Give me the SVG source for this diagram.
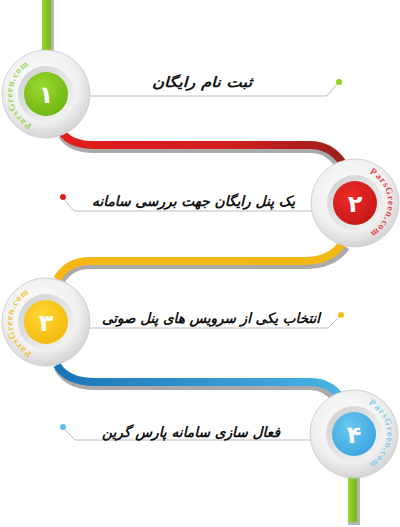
<svg xmlns="http://www.w3.org/2000/svg" width="400" height="527" viewBox="0 0 400 527">
<style>
.lbl{font-family:"DejaVu Sans",sans-serif;font-weight:bold;font-style:italic;font-size:14px;fill:#111;text-anchor:end}
.num{font-family:"DejaVu Sans",sans-serif;font-weight:bold;font-size:24px;fill:#fff;text-anchor:middle}
.pg{font-family:"Liberation Serif",serif;font-weight:bold;font-size:9.5px;letter-spacing:0.8px}
.lead{fill:none;stroke:#bdbdbd;stroke-width:1}
.band{fill:none;stroke-width:8}
.shadow{fill:none;stroke:#aaaaaa;stroke-width:8}
.rim{fill:url(#rimG);stroke:#c9c9c9;stroke-width:0.8}
.ring{fill:url(#ringG)}
</style>
<defs>
<radialGradient id="rimG" cx="0.45" cy="0.4" r="0.6">
<stop offset="0" stop-color="#ffffff"/><stop offset="0.7" stop-color="#f0f0f0"/><stop offset="1" stop-color="#d4d4d4"/>
</radialGradient>
<linearGradient id="ringG" x1="0" y1="0" x2="1" y2="1">
<stop offset="0" stop-color="#cfcfcf"/><stop offset="1" stop-color="#f6f6f6"/>
</linearGradient>
<radialGradient id="gG" cx="0.4" cy="0.35" r="0.7"><stop offset="0" stop-color="#9ad830"/><stop offset="1" stop-color="#6fb512"/></radialGradient>
<radialGradient id="rG" cx="0.4" cy="0.35" r="0.7"><stop offset="0" stop-color="#ee2a26"/><stop offset="1" stop-color="#c41818"/></radialGradient>
<radialGradient id="yG" cx="0.4" cy="0.35" r="0.7"><stop offset="0" stop-color="#ffd633"/><stop offset="1" stop-color="#f2b90c"/></radialGradient>
<radialGradient id="bG" cx="0.4" cy="0.35" r="0.7"><stop offset="0" stop-color="#6cc8f0"/><stop offset="1" stop-color="#3aa4e0"/></radialGradient>
<linearGradient id="redBand" gradientUnits="userSpaceOnUse" x1="60" y1="0" x2="345" y2="0">
<stop offset="0" stop-color="#e21c1c"/><stop offset="0.6" stop-color="#d01e1e"/><stop offset="1" stop-color="#9c1f1c"/>
</linearGradient>
<linearGradient id="yelBand" gradientUnits="userSpaceOnUse" x1="55" y1="0" x2="345" y2="0">
<stop offset="0" stop-color="#f6b715"/><stop offset="1" stop-color="#f4b812"/>
</linearGradient>
<linearGradient id="bluBand" gradientUnits="userSpaceOnUse" x1="55" y1="0" x2="345" y2="0">
<stop offset="0" stop-color="#1b74b6"/><stop offset="1" stop-color="#49b4e4"/>
</linearGradient>
<linearGradient id="barG" x1="0" y1="0" x2="1" y2="0">
<stop offset="0" stop-color="#9bd62c"/><stop offset="1" stop-color="#78b81a"/>
</linearGradient>
<path id="arc1" d="M 32,124.4 A 33,33 0 0 1 27,66.8"/>
<path id="arc2" d="M 369.5,173.3 A 33,33 0 0 1 370.5,232.1"/>
<path id="arc3" d="M 32,352.4 A 33,33 0 0 1 27,294.8"/>
<path id="arc4" d="M 368.5,404.3 A 33,33 0 0 1 369.5,463.1"/>
</defs>
<rect width="400" height="527" fill="#ffffff"/>

<g id="connectors">
<rect x="50" y="0" width="4" height="60" fill="#b5b5b5"/>
<rect x="42" y="0" width="9" height="60" fill="url(#barG)"/>
<rect x="356" y="470" width="4" height="55" fill="#b5b5b5"/>
<rect x="348" y="521" width="11" height="4" fill="#b5b5b5"/>
<rect x="348" y="470" width="9" height="52" fill="url(#barG)"/>
<path class="shadow" d="M 62,135 Q 70,149 95,149 L 310,149 Q 328,149 338,164"/>
<path class="band" stroke="url(#redBand)" d="M 62,132 Q 70,145 95,145 L 310,145 Q 330,145 342,162"/>
<path class="shadow" d="M 346,247 Q 333,265 305,265 L 90,265 Q 70,265 61,281"/>
<path class="band" stroke="url(#yelBand)" d="M 342,244 Q 330,261 305,261 L 90,261 Q 68,261 57,279"/>
<path class="shadow" d="M 58,368 Q 68,386 95,386 L 310,386 Q 326,386 336,400"/>
<path class="band" stroke="url(#bluBand)" d="M 57,365 Q 67,382 95,382 L 310,382 Q 330,382 341,398"/>
</g>

<g id="step1">
<path class="lead" d="M 88,96 L 327,96 L 338,83"/>
<circle cx="339" cy="82" r="3" fill="#8fd11d"/>
<text class="lbl" x="252" y="87" textLength="100" lengthAdjust="spacingAndGlyphs">ثبت نام رایگان</text>
<circle cx="46" cy="94" r="44" class="rim"/>
<circle cx="46" cy="94" r="28" class="ring"/>
<circle cx="46" cy="94" r="22" fill="url(#gG)"/>
<text class="num" x="46" y="103">۱</text>
<text class="pg" fill="#9ed65a"><textPath href="#arc1">ParsGreen.com</textPath></text>
</g>

<g id="step2">
<path class="lead" d="M 312,211 L 74,211 L 63,198"/>
<circle cx="63" cy="197" r="3" fill="#e01e1e"/>
<text class="lbl" x="295" y="206" textLength="203" lengthAdjust="spacingAndGlyphs">یک پنل رایگان جهت بررسی سامانه</text>
<circle cx="355" cy="203" r="44" class="rim"/>
<circle cx="355" cy="203" r="28" class="ring"/>
<circle cx="355" cy="203" r="22" fill="url(#rG)"/>
<text class="num" x="355" y="212">۲</text>
<text class="pg" fill="#e2474a"><textPath href="#arc2">ParsGreen.com</textPath></text>
</g>

<g id="step3">
<path class="lead" d="M 88,328 L 328,328 L 340,316"/>
<circle cx="341" cy="315" r="3" fill="#f6c21a"/>
<text class="lbl" x="320" y="323" textLength="218" lengthAdjust="spacingAndGlyphs">انتخاب یکی از سرویس های پنل صوتی</text>
<circle cx="46" cy="322" r="44" class="rim"/>
<circle cx="46" cy="322" r="28" class="ring"/>
<circle cx="46" cy="322" r="22" fill="url(#yG)"/>
<text class="num" x="46" y="331">۳</text>
<text class="pg" fill="#f0c236"><textPath href="#arc3">ParsGreen.com</textPath></text>
</g>

<g id="step4">
<path class="lead" d="M 312,440 L 75,440 L 63,428"/>
<circle cx="63" cy="427" r="3" fill="#5cc0ea"/>
<text class="lbl" x="280" y="437" textLength="178" lengthAdjust="spacingAndGlyphs">فعال سازی سامانه پارس گرین</text>
<circle cx="354" cy="434" r="44" class="rim"/>
<circle cx="354" cy="434" r="28" class="ring"/>
<circle cx="354" cy="434" r="22" fill="url(#bG)"/>
<text class="num" x="354" y="443">۴</text>
<text class="pg" fill="#86c8ec"><textPath href="#arc4">ParsGreen.com</textPath></text>
</g>
</svg>
